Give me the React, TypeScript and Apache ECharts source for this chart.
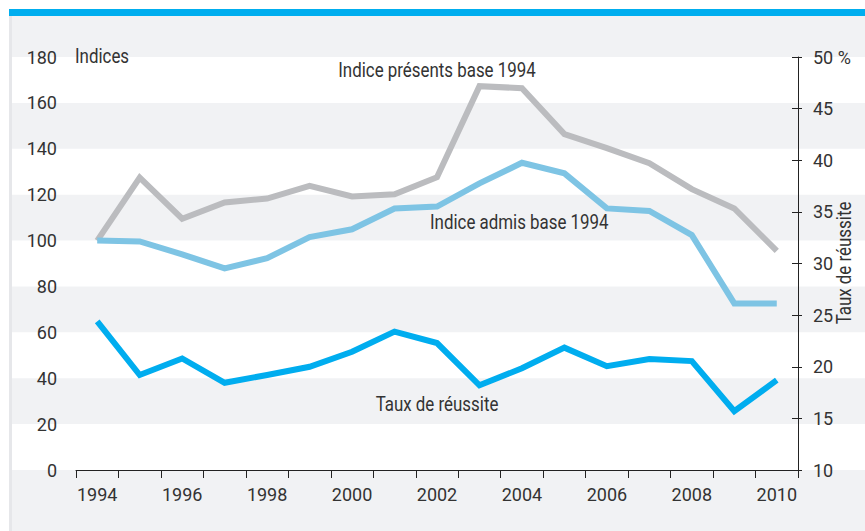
import React, { useEffect, useRef } from "react";
import * as echarts from "echarts";

const years = ["1994","1995","1996","1997","1998","1999","2000","2001","2002","2003","2004","2005","2006","2007","2008","2009","2010"];
const seriesNames = ["Indice présents base 1994", "Indice admis base 1994", "Taux de réussite"];
const presents = [100, 127.4, 109.5, 116.6, 118.3, 123.8, 119.2, 120.2, 127.6, 167.3, 166.4, 146.4, 140.3, 133.7, 122.4, 114, 95.5];
const admis = [100, 99.6, 94, 87.9, 92.3, 101.5, 104.9, 114, 114.8, 124.9, 133.9, 129.3, 114, 112.9, 102.4, 72.6, 72.6];
const taux = [24.4, 19.2, 20.8, 18.45, 19.2, 20.0, 21.45, 23.4, 22.3, 18.2, 19.85, 21.85, 20.05, 20.75, 20.55, 15.7, 18.7];
const leftAxisTitle = "Indices";
const rightAxisTitle = "Taux de réussite";

const FONT = "Roboto, 'DejaVu Sans Condensed', sans-serif";
const TXT = "#333333";
const AXIS_FS = 18;
const SQ = 0.845;

export default function App() {
  const ref = useRef<HTMLDivElement>(null);
  useEffect(() => {
    if (!ref.current) return;
    const chart = echarts.init(ref.current, undefined, { renderer: "svg" });
    const lineStyle = (color: string) => ({ color, width: 6, join: "miter" as const, cap: "butt" as const });
    const label = (text: string, x: number, y: number, align: string, extra: any = {}) => ({
      type: "text", x, y, z: 10, scaleX: SQ, ...extra,
      style: { text, fill: TXT, fontSize: 20, fontFamily: FONT, align, verticalAlign: "middle" },
    });
    chart.setOption({
      animation: false,
      backgroundColor: "#ffffff",
      textStyle: { fontFamily: FONT },
      grid: [
        { left: 76, right: 67, top: 57, bottom: 61, containLabel: false },
        { left: 12, right: 0, top: 57, bottom: 61, containLabel: false },
      ],
      xAxis: [
        {
          gridIndex: 0,
          type: "category",
          data: years,
          boundaryGap: true,
          axisLine: { lineStyle: { color: "#222222", width: 1 } },
          axisTick: { show: true, interval: 0, length: 8, lineStyle: { color: "#222222" } },
          axisLabel: { interval: 1, margin: 15, fontSize: AXIS_FS, color: TXT, fontFamily: FONT },
          splitLine: { show: false },
        },
        { gridIndex: 1, type: "value", min: 0, max: 1, show: false },
      ],
      yAxis: [
        {
          gridIndex: 0,
          type: "value",
          position: "left",
          min: 0,
          max: 180,
          interval: 20,
          axisLine: { show: false },
          axisTick: { show: false },
          axisLabel: { margin: 19, fontSize: AXIS_FS, color: TXT, fontFamily: FONT },
          splitLine: { show: false },
        },
        {
          gridIndex: 0,
          type: "value",
          position: "right",
          min: 10,
          max: 50,
          interval: 5,
          axisLine: { show: true, lineStyle: { color: "#222222", width: 1 } },
          axisTick: { show: true, length: 4, lineStyle: { color: "#222222" } },
          axisLabel: {
            margin: 15,
            fontSize: AXIS_FS,
            color: TXT,
            fontFamily: FONT,
            formatter: (v: number) => (v === 50 ? "50 %" : String(v)),
          },
          splitLine: { show: false },
        },
        {
          gridIndex: 0,
          type: "value",
          position: "right",
          min: 10,
          max: 50,
          interval: 5,
          axisLine: { show: false },
          axisTick: { show: true, inside: true, length: 6, lineStyle: { color: "#222222" } },
          axisLabel: { show: false },
          splitLine: { show: false },
        },
        {
          gridIndex: 1,
          type: "value",
          min: 0,
          max: 180,
          interval: 20,
          axisLine: { show: false },
          axisTick: { show: false },
          axisLabel: { show: false },
          splitLine: { show: false },
          splitArea: { show: true, areaStyle: { color: ["#ffffff", "rgba(0,0,0,0)"] } },
        },
      ],
      graphic: [
        { type: "rect", z: -100, shape: { x: 9, y: 16, width: 856, height: 515 }, style: { fill: "#f1f2f4" } },
        { type: "rect", z: -99, shape: { x: 9, y: 16, width: 3, height: 515 }, style: { fill: "#e6e7ea" } },
        { type: "rect", z: -99, shape: { x: 9, y: 9, width: 856, height: 7 }, style: { fill: "#00aeef" } },
        label(leftAxisTitle, 75, 57, "left"),
        label(rightAxisTitle, 845, 263, "center", { rotation: Math.PI / 2 }),
        label(seriesNames[0], 437, 71, "center"),
        label(seriesNames[1], 430, 223, "left"),
        label(seriesNames[2], 437, 405, "center"),
      ],
      series: [
        {
          name: seriesNames[0], type: "line", xAxisIndex: 0, yAxisIndex: 0, data: presents,
          showSymbol: false, symbol: "none", lineStyle: lineStyle("#bbbcbf"), z: 2,
        },
        {
          name: seriesNames[1], type: "line", xAxisIndex: 0, yAxisIndex: 0, data: admis,
          showSymbol: false, symbol: "none", lineStyle: lineStyle("#7ec4e4"), z: 3,
        },
        {
          name: seriesNames[2], type: "line", xAxisIndex: 0, yAxisIndex: 1, data: taux,
          showSymbol: false, symbol: "none", lineStyle: lineStyle("#00adef"), z: 4,
        },
      ],
    });
    return () => chart.dispose();
  }, []);
  return <div ref={ref} style={{ position: "absolute", left: 0, top: 0, width: 865, height: 531 }} />;
}
